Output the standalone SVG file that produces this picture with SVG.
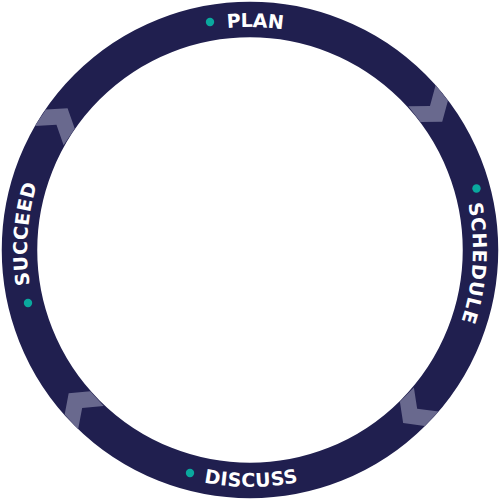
<svg xmlns="http://www.w3.org/2000/svg" xmlns:xlink="http://www.w3.org/1999/xlink" width="500" height="500" viewBox="0 0 500 500">
  <style>
    .ring { fill: none; stroke: #201f4f; stroke-width: 35.5; }
    .chev { fill: #69698e; }
    .dot { fill: #0aa89e; }
    .lbl { font-family: "DejaVu Sans", "Liberation Sans", sans-serif; font-weight: 700; font-size: 19px; fill: #ffffff; }
  </style>
  <defs>
    <path id="cw" d="M 250,473 A 223 223 0 1 1 250,27 A 223 223 0 1 1 250,473" fill="none"/>
    <path id="ccw" d="M 13,250 A 237 237 0 0 0 487,250" fill="none"/>
    <polygon id="chevron" points="-16.5,-17.3 3.5,-17.3 16.5,0 3.5,17.3 -16.5,17.3 -3.5,0"/>
  </defs>
  <rect width="500" height="500" fill="#ffffff"/>
  <g id="cycle-ring">
    <circle class="ring" cx="250" cy="250" r="230.5"/>
  </g>
  <g id="connectors">
    <use href="#chevron" class="chev" transform="translate(432.1,108.7) rotate(52.2)"/>
    <use href="#chevron" class="chev" transform="translate(414.7,411.3) rotate(134.4)"/>
    <use href="#chevron" class="chev" transform="translate(79.8,405.4) rotate(227.6)"/>
    <use href="#chevron" class="chev" transform="translate(58.4,121.9) rotate(303.75)"/>
  </g>
  <g id="plan">
    <circle class="dot" cx="210" cy="22" r="4.2"/>
    <text class="lbl"><textPath href="#cw" startOffset="705.4" text-anchor="middle" textLength="56" lengthAdjust="spacing">PLAN</textPath></text>
  </g>
  <g id="schedule">
    <circle class="dot" cx="476.5" cy="188.5" r="4.2"/>
    <text class="lbl"><textPath href="#cw" startOffset="1063.3" text-anchor="middle" textLength="119" lengthAdjust="spacing">SCHEDULE</textPath></text>
  </g>
  <g id="discuss">
    <circle class="dot" cx="190" cy="473" r="4.2"/>
    <text class="lbl"><textPath href="#ccw" startOffset="373" text-anchor="middle" textLength="95" lengthAdjust="spacing">DISCUSS</textPath></text>
  </g>
  <g id="succeed">
    <circle class="dot" cx="28" cy="303" r="4.2"/>
    <text class="lbl"><textPath href="#cw" startOffset="365.9" text-anchor="middle" textLength="102" lengthAdjust="spacing">SUCCEED</textPath></text>
  </g>
</svg>
